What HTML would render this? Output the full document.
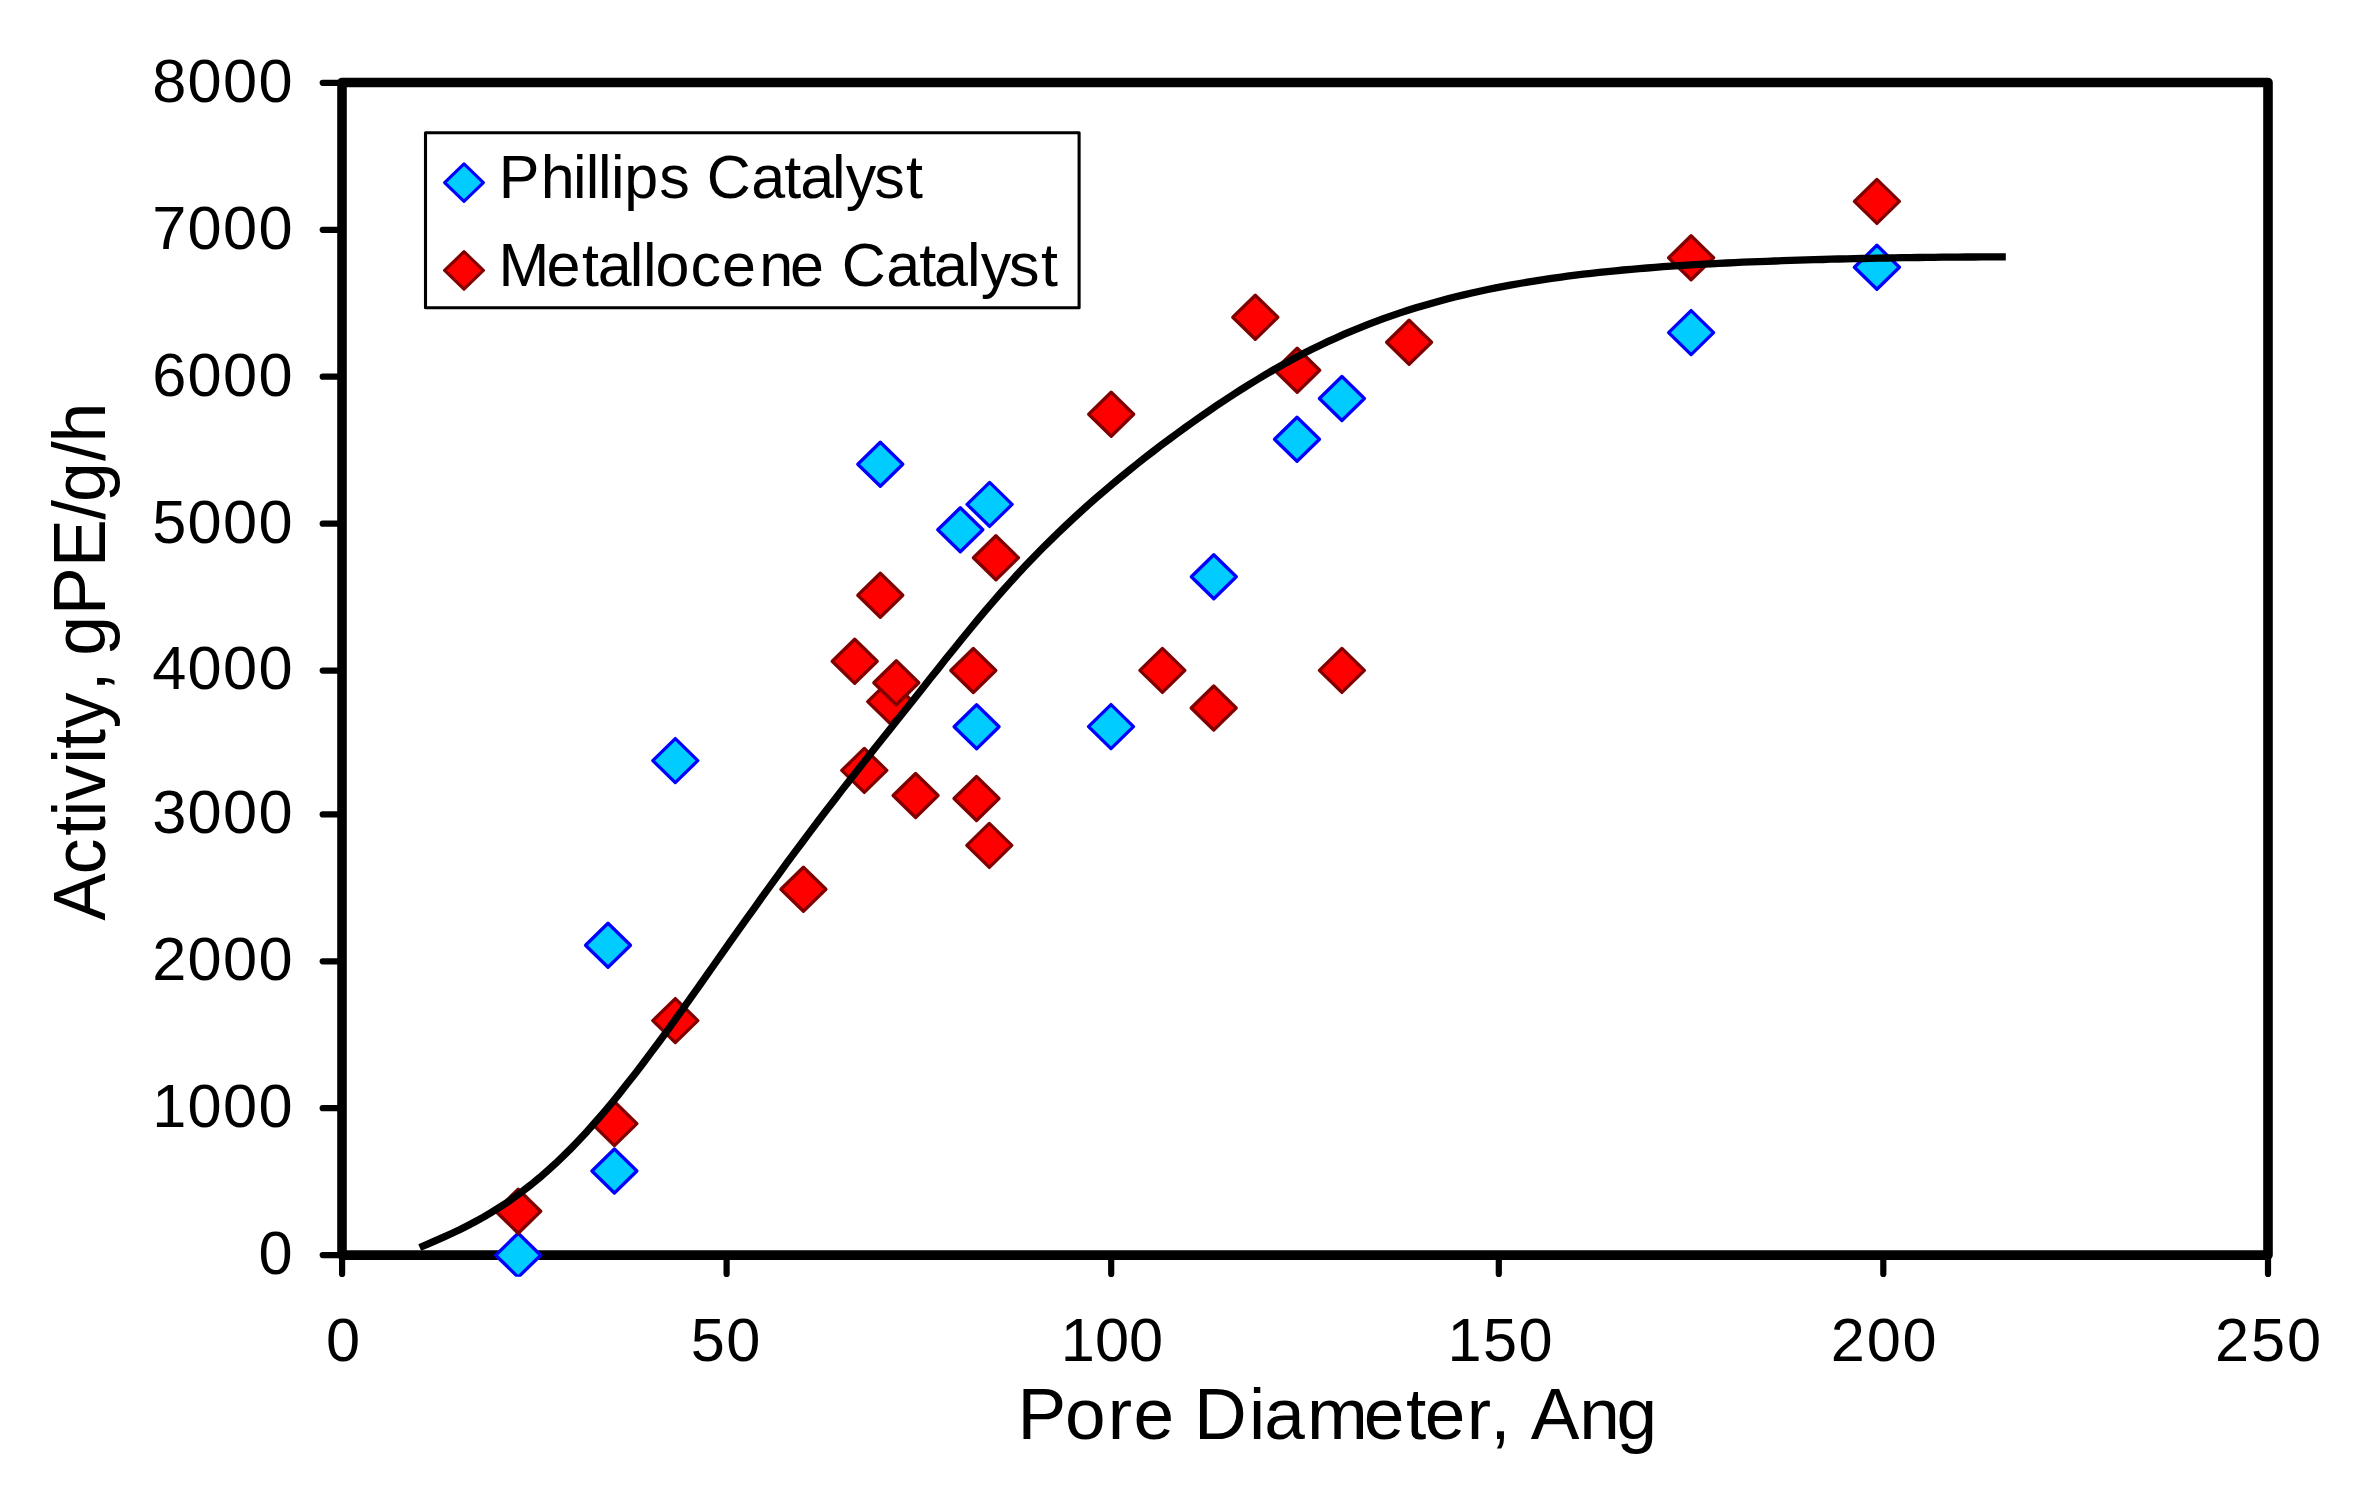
<!DOCTYPE html>
<html><head><meta charset="utf-8"><title>Activity vs Pore Diameter</title>
<style>
html,body{margin:0;padding:0;background:#fff}
svg{display:block}
text{font-kerning:none;font-family:"Liberation Sans",Arial,Helvetica,sans-serif;fill:#000}
</style></head><body>
<svg width="2365" height="1508" viewBox="0 0 2365 1508">
<defs><clipPath id="mclip"><rect x="0" y="0" width="2365" height="1276.8"/></clipPath></defs>
<rect x="0" y="0" width="2365" height="1508" fill="#fff"/>

<g stroke="#000" stroke-width="6.2" stroke-linecap="round" fill="none">
<line x1="322.7" y1="1255.1" x2="342.0" y2="1255.1"/>
<line x1="322.7" y1="1108.2" x2="342.0" y2="1108.2"/>
<line x1="322.7" y1="961.3" x2="342.0" y2="961.3"/>
<line x1="322.7" y1="814.4" x2="342.0" y2="814.4"/>
<line x1="322.7" y1="670.6" x2="342.0" y2="670.6"/>
<line x1="322.7" y1="523.7" x2="342.0" y2="523.7"/>
<line x1="322.7" y1="376.7" x2="342.0" y2="376.7"/>
<line x1="322.7" y1="229.8" x2="342.0" y2="229.8"/>
<line x1="322.7" y1="82.8" x2="342.0" y2="82.8"/>
<line x1="342.1" y1="1255.1" x2="342.1" y2="1273.9"/>
<line x1="726.6" y1="1255.1" x2="726.6" y2="1273.9"/>
<line x1="1111.2" y1="1255.1" x2="1111.2" y2="1273.9"/>
<line x1="1498.8" y1="1255.1" x2="1498.8" y2="1273.9"/>
<line x1="1883.3" y1="1255.1" x2="1883.3" y2="1273.9"/>
<line x1="2268.0" y1="1255.1" x2="2268.0" y2="1273.9"/>
</g>
<rect x="342.0" y="82.5" width="1926.0" height="1172.6" fill="none" stroke="#000" stroke-width="9.6" stroke-linejoin="round"/>
<g clip-path="url(#mclip)" fill="#00ccff" stroke="#0000ff" stroke-width="3.3" stroke-linejoin="round">
<polygon points="518.2,1233.2 540.7,1255.2 518.2,1277.2 495.7,1255.2"/>
<polygon points="614.4,1149.0 636.9,1171.0 614.4,1193.0 591.9,1171.0"/>
<polygon points="608.0,923.3 630.5,945.3 608.0,967.3 585.5,945.3"/>
<polygon points="675.3,738.6 697.8,760.6 675.3,782.6 652.8,760.6"/>
<polygon points="880.3,442.2 902.8,464.2 880.3,486.2 857.8,464.2"/>
<polygon points="960.3,507.7 982.8,529.7 960.3,551.7 937.8,529.7"/>
<polygon points="989.6,482.4 1012.1,504.4 989.6,526.4 967.1,504.4"/>
<polygon points="976.6,704.7 999.1,726.7 976.6,748.7 954.1,726.7"/>
<polygon points="1111.0,704.6 1133.5,726.6 1111.0,748.6 1088.5,726.6"/>
<polygon points="1213.8,554.8 1236.3,576.8 1213.8,598.8 1191.3,576.8"/>
<polygon points="1297.0,417.2 1319.5,439.2 1297.0,461.2 1274.5,439.2"/>
<polygon points="1341.9,376.5 1364.4,398.5 1341.9,420.5 1319.4,398.5"/>
<polygon points="1691.1,310.6 1713.6,332.6 1691.1,354.6 1668.6,332.6"/>
<polygon points="1876.9,245.3 1899.4,267.3 1876.9,289.3 1854.4,267.3"/>
</g>
<g fill="#ff0000" stroke="#800000" stroke-width="3.3" stroke-linejoin="round">
<polygon points="518.2,1189.2 540.7,1211.2 518.2,1233.2 495.7,1211.2"/>
<polygon points="614.4,1101.6 636.9,1123.6 614.4,1145.6 591.9,1123.6"/>
<polygon points="675.3,998.6 697.8,1020.6 675.3,1042.6 652.8,1020.6"/>
<polygon points="803.4,867.3 825.9,889.3 803.4,911.3 780.9,889.3"/>
<polygon points="864.3,748.4 886.8,770.4 864.3,792.4 841.8,770.4"/>
<polygon points="915.6,773.5 938.1,795.5 915.6,817.5 893.1,795.5"/>
<polygon points="976.5,776.5 999.0,798.5 976.5,820.5 954.0,798.5"/>
<polygon points="989.3,823.4 1011.8,845.4 989.3,867.4 966.8,845.4"/>
<polygon points="854.7,639.3 877.2,661.3 854.7,683.3 832.2,661.3"/>
<polygon points="890.2,679.6 912.7,701.6 890.2,723.6 867.7,701.6"/>
<polygon points="896.3,660.8 918.8,682.8 896.3,704.8 873.8,682.8"/>
<polygon points="973.3,648.5 995.8,670.5 973.3,692.5 950.8,670.5"/>
<polygon points="880.3,573.3 902.8,595.3 880.3,617.3 857.8,595.3"/>
<polygon points="995.9,535.8 1018.4,557.8 995.9,579.8 973.4,557.8"/>
<polygon points="1111.2,392.2 1133.7,414.2 1111.2,436.2 1088.7,414.2"/>
<polygon points="1162.4,648.4 1184.9,670.4 1162.4,692.4 1139.9,670.4"/>
<polygon points="1213.7,686.0 1236.2,708.0 1213.7,730.0 1191.2,708.0"/>
<polygon points="1341.9,648.4 1364.4,670.4 1341.9,692.4 1319.4,670.4"/>
<polygon points="1255.3,295.3 1277.8,317.3 1255.3,339.3 1232.8,317.3"/>
<polygon points="1297.2,348.3 1319.7,370.3 1297.2,392.3 1274.7,370.3"/>
<polygon points="1409.1,320.2 1431.6,342.2 1409.1,364.2 1386.6,342.2"/>
<polygon points="1691.1,235.8 1713.6,257.8 1691.1,279.8 1668.6,257.8"/>
<polygon points="1876.9,179.4 1899.4,201.4 1876.9,223.4 1854.4,201.4"/>
</g>
<path d="M419.7,1247.5 L427.7,1244.1 L435.6,1240.6 L443.6,1237.1 L451.6,1233.5 L459.6,1229.7 L467.5,1225.7 L475.5,1221.5 L483.5,1217.1 L491.4,1212.4 L499.4,1207.4 L507.4,1202.2 L515.3,1196.6 L523.3,1190.7 L531.3,1184.5 L539.3,1177.9 L547.2,1171.0 L555.2,1163.8 L563.2,1156.2 L571.1,1148.3 L579.1,1140.0 L587.1,1131.4 L595.0,1122.5 L603.0,1113.3 L611.0,1103.9 L619.0,1094.1 L626.9,1084.1 L634.9,1073.9 L642.9,1063.5 L650.8,1052.9 L658.8,1042.2 L666.8,1031.3 L674.8,1020.2 L682.7,1009.1 L690.7,997.9 L698.7,986.6 L706.6,975.4 L714.6,964.0 L722.6,952.7 L730.5,941.4 L738.5,930.2 L746.5,918.9 L754.5,907.8 L762.4,896.6 L770.4,885.6 L778.4,874.6 L786.3,863.7 L794.3,852.9 L802.3,842.2 L810.2,831.6 L818.2,821.0 L826.2,810.6 L834.2,800.2 L842.1,789.9 L850.1,779.7 L858.1,769.5 L866.0,759.4 L874.0,749.3 L882.0,739.3 L890.0,729.3 L897.9,719.3 L905.9,709.2 L913.9,699.2 L921.8,689.2 L929.8,679.1 L937.8,669.1 L945.7,659.1 L953.7,649.2 L961.7,639.3 L969.7,629.5 L977.6,619.9 L985.6,610.4 L993.6,601.1 L1001.5,592.0 L1009.5,583.1 L1017.5,574.3 L1025.4,565.8 L1033.4,557.4 L1041.4,549.3 L1049.4,541.3 L1057.3,533.6 L1065.3,526.0 L1073.3,518.5 L1081.2,511.2 L1089.2,504.1 L1097.2,497.1 L1105.2,490.3 L1113.1,483.5 L1121.1,476.9 L1129.1,470.4 L1137.0,464.0 L1145.0,457.7 L1153.0,451.5 L1160.9,445.4 L1168.9,439.5 L1176.9,433.6 L1184.9,427.8 L1192.8,422.1 L1200.8,416.5 L1208.8,410.9 L1216.7,405.5 L1224.7,400.2 L1232.7,395.0 L1240.6,389.9 L1248.6,384.9 L1256.6,380.0 L1264.6,375.2 L1272.5,370.5 L1280.5,366.0 L1288.5,361.6 L1296.4,357.3 L1304.4,353.1 L1312.4,349.1 L1320.3,345.2 L1328.3,341.4 L1336.3,337.8 L1344.3,334.2 L1352.2,330.8 L1360.2,327.6 L1368.2,324.4 L1376.1,321.4 L1384.1,318.4 L1392.1,315.6 L1400.1,312.9 L1408.0,310.3 L1416.0,307.8 L1424.0,305.4 L1431.9,303.2 L1439.9,301.0 L1447.9,298.8 L1455.8,296.8 L1463.8,294.9 L1471.8,293.0 L1479.8,291.2 L1487.7,289.5 L1495.7,287.9 L1503.7,286.4 L1511.6,284.9 L1519.6,283.5 L1527.6,282.1 L1535.5,280.8 L1543.5,279.6 L1551.5,278.4 L1559.5,277.3 L1567.4,276.2 L1575.4,275.2 L1583.4,274.2 L1591.3,273.3 L1599.3,272.4 L1607.3,271.6 L1615.3,270.8 L1623.2,270.0 L1631.2,269.3 L1639.2,268.6 L1647.1,268.0 L1655.1,267.3 L1663.1,266.7 L1671.0,266.2 L1679.0,265.7 L1687.0,265.1 L1695.0,264.7 L1702.9,264.2 L1710.9,263.8 L1718.9,263.4 L1726.8,263.0 L1734.8,262.6 L1742.8,262.2 L1750.7,261.9 L1758.7,261.6 L1766.7,261.3 L1774.7,261.0 L1782.6,260.7 L1790.6,260.4 L1798.6,260.2 L1806.5,259.9 L1814.5,259.7 L1822.5,259.5 L1830.5,259.2 L1838.4,259.0 L1846.4,258.9 L1854.4,258.7 L1862.3,258.5 L1870.3,258.3 L1878.3,258.2 L1886.2,258.0 L1894.2,257.9 L1902.2,257.7 L1910.2,257.6 L1918.1,257.5 L1926.1,257.4 L1934.1,257.3 L1942.0,257.2 L1950.0,257.1 L1958.0,257.1 L1965.9,257.0 L1973.9,257.0 L1981.9,256.9 L1989.9,256.9 L1997.8,256.9 L2005.8,256.9" fill="none" stroke="#000" stroke-width="7.3" stroke-linejoin="round" stroke-linecap="butt"/>
<rect x="425.5" y="132.8" width="653.6" height="175" fill="#fff" stroke="#000" stroke-width="3.1" stroke-linejoin="round"/>
<polygon points="464.0,163.8 483.4,182.6 464.0,201.4 444.6,182.6" fill="#00ccff" stroke="#0000ff" stroke-width="3.1" stroke-linejoin="round"/>
<polygon points="464.0,251.6 483.4,270.4 464.0,289.2 444.6,270.4" fill="#ff0000" stroke="#800000" stroke-width="3.1" stroke-linejoin="round"/>
<text x="498.65 540.72 572.92 585.79 597.89 610.92 624.32 659.30 689.80 706.80 751.21 784.23 800.31 831.99 845.85 874.15 905.98" y="198.1" font-size="61">Phillips Catalyst</text>
<text x="498.40 546.51 581.98 597.71 629.69 642.99 655.44 690.51 721.91 759.15 789.91 823.83 841.70 886.21 919.33 934.11 966.89 980.65 1009.00 1041.08" y="285.9" font-size="61">Metallocene Catalyst</text>
<text x="258.40" y="1273.9" font-size="61.3" letter-spacing="0.000">0</text>
<text x="152.20" y="1127.0" font-size="61.3" letter-spacing="1.308">1000</text>
<text x="152.20" y="980.1" font-size="61.3" letter-spacing="1.308">2000</text>
<text x="152.20" y="833.2" font-size="61.3" letter-spacing="1.308">3000</text>
<text x="152.20" y="689.4" font-size="61.3" letter-spacing="1.308">4000</text>
<text x="152.20" y="542.5" font-size="61.3" letter-spacing="1.308">5000</text>
<text x="152.20" y="395.5" font-size="61.3" letter-spacing="1.308">6000</text>
<text x="152.20" y="248.6" font-size="61.3" letter-spacing="1.308">7000</text>
<text x="152.20" y="101.6" font-size="61.3" letter-spacing="1.308">8000</text>
<text x="325.91" y="1361.0" font-size="61.3" letter-spacing="0.000">0</text>
<text x="690.75" y="1361.0" font-size="61.3" letter-spacing="1.525">50</text>
<text x="1060.83" y="1361.0" font-size="61.3" letter-spacing="-0.006">100</text>
<text x="1447.53" y="1361.0" font-size="61.3" letter-spacing="1.344">150</text>
<text x="1830.72" y="1361.0" font-size="61.3" letter-spacing="1.851">200</text>
<text x="2214.92" y="1361.0" font-size="61.3" letter-spacing="2.001">250</text>
<text x="1017.41 1064.93 1107.85 1133.60 1174.20 1193.91 1249.12 1264.20 1307.05 1363.70 1406.00 1424.70 1466.85 1490.34 1510.62 1530.86 1579.25 1616.53" y="1438.8" font-size="73">Pore Diameter, Ang</text>
<text transform="translate(105.2,920.5) rotate(-90) scale(1,1.04)" x="-0.14 46.16 84.82 103.92 119.66 156.72 171.72 192.33 229.08 248.94 264.70 305.63 353.43 400.70 418.60 459.60 477.94" y="0" font-size="71.5">Activity, gPE/g/h</text>
</svg></body></html>
